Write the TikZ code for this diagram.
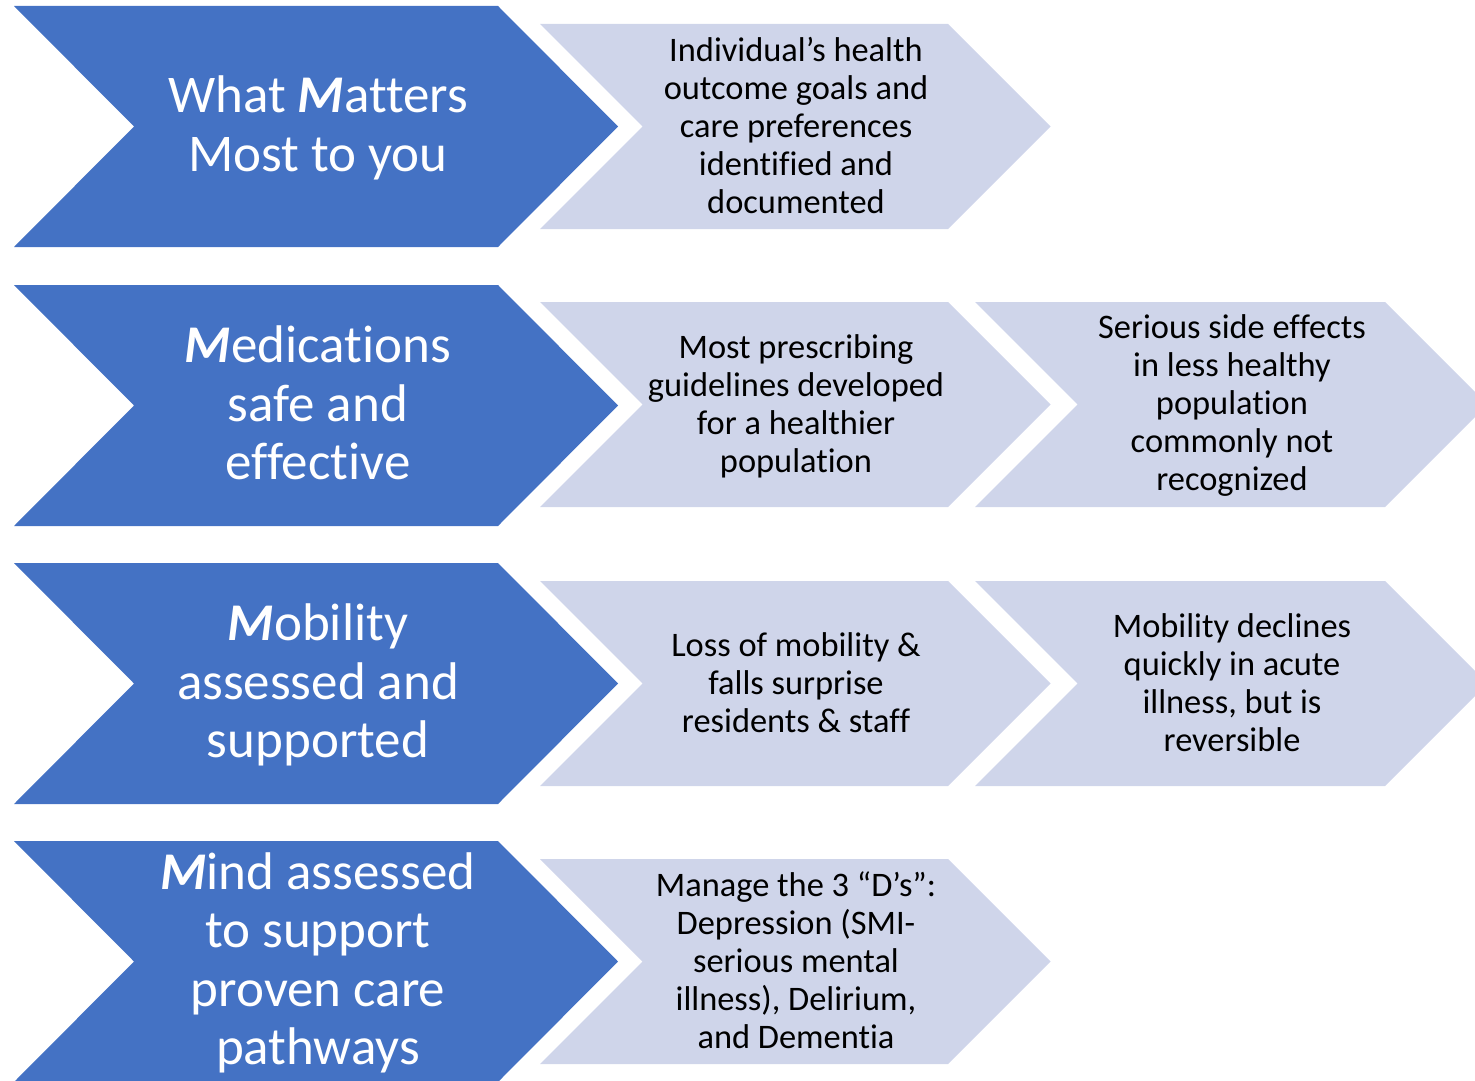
\documentclass[tikz,border=0pt]{standalone}
\usepackage{fontspec}
\setmainfont{Carlito}[Ligatures=NoCommon]
\usetikzlibrary{calc}
\definecolor{stepblue}{HTML}{4472C4}
\definecolor{paleblue}{HTML}{CFD5EA}

\begin{document}
\begin{tikzpicture}[x=1pt, y=-1pt,
  bigchev/.style = {fill=stepblue},
  smallchev/.style = {fill=paleblue},
  bigtext/.style = {text=white, align=center, font=\fontsize{53}{58.5}\selectfont},
  smalltext/.style = {text=black, align=center, font=\fontsize{34.4}{38}\selectfont}]

\useasboundingbox (0,0) rectangle (1475,1081);

% left column, dark chevrons
\foreach \y in {6,285,563,841}
  \fill[bigchev] (14,\y) -- ++(484,0) -- ++(120,120.5) -- ++(-120,120.5)
    -- ++(-484,0) -- ++(120,-120.5) -- cycle;

% middle column
\foreach \y in {24,302,581,859}
  \fill[smallchev] (540,\y) -- ++(408,0) -- ++(102.5,102.5) -- ++(-102.5,102.5)
    -- ++(-408,0) -- ++(102.5,-102.5) -- cycle;

% right column
\foreach \y in {302,581}
  \fill[smallchev] (975,\y) -- ++(410,0) -- ++(102.5,102.5) -- ++(-102.5,102.5)
    -- ++(-410,0) -- ++(102.5,-102.5) -- cycle;


\node[bigtext] (matters) at (318,128) {What \textbf{\textit{M}}atters\\Most to you};
\node[bigtext] (meds) at (318,403) {\textbf{\textit{M}}edications\\safe and\\effective};
\node[bigtext] (mobility) at (318,685) {\textbf{\textit{M}}obility\\assessed and\\supported};
\node[bigtext] (mind) at (318,963) {\textbf{\textit{M}}ind assessed\\to support\\proven care\\pathways};

\node[smalltext] (goals) at (796,125) {Individual’s health\\outcome goals and\\care preferences\\identified and\\documented};
\node[smalltext] (guidelines) at (796,406) {Most prescribing\\guidelines developed\\for a healthier\\population};
\node[smalltext] (falls) at (796,682.5) {Loss of mobility \&\\falls surprise\\residents \& staff};
\node[smalltext] (threeD) at (796,960.5) {Manage the 3 “D’s”:\\Depression (SMI-\\serious mental\\illness), Delirium,\\and Dementia};

\node[smalltext] (sideeffects) at (1232,406) {Serious side effects\\in less healthy\\population\\commonly not\\recognized};
\node[smalltext] (decline) at (1232,683) {Mobility declines\\quickly in acute\\illness, but is\\reversible};


\end{tikzpicture}
\end{document}
